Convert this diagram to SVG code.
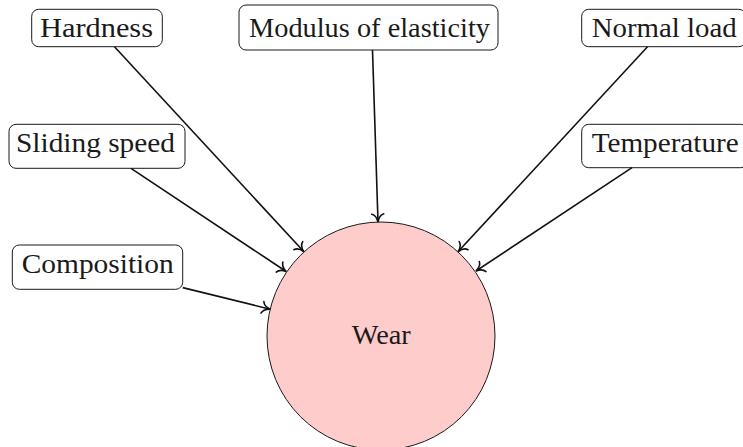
<svg xmlns="http://www.w3.org/2000/svg" width="743" height="447" viewBox="0 0 743 447">
<style>
.box{fill:#ffffff;stroke:#1a1a1a;stroke-width:1}
.lbl{font-family:"Liberation Serif","DejaVu Serif",serif;font-size:27px;fill:#1a1a1a}
.edge{stroke:#111;stroke-width:1.6;fill:none;marker-end:url(#arr)}
</style>
<defs>
<marker id="arr" markerUnits="userSpaceOnUse" viewBox="-10 -8 12 16" refX="0" refY="0" markerWidth="12" markerHeight="16" orient="auto" overflow="visible">
<path d="M -8,-6 C -7,-2.5 -3.5,-0.7 0,0 C -3.5,0.7 -7,2.5 -8,6" fill="none" stroke="#111" stroke-width="1.6" stroke-linecap="round"/>
</marker>
</defs>
<rect width="743" height="447" fill="#ffffff"/>
<g id="wear">
<circle cx="381" cy="336" r="114" fill="#ffcccc" stroke="#1a1a1a" stroke-width="1"/>
<text class="lbl" x="351.7" y="344" textLength="59" lengthAdjust="spacingAndGlyphs">Wear</text>
</g>
<g id="hardness">
<rect class="box" x="31.7" y="9.3" width="130.6" height="37.4" rx="7"/>
<text class="lbl" x="40" y="36.7" textLength="113" lengthAdjust="spacingAndGlyphs">Hardness</text>
</g>
<g id="modulus">
<rect class="box" x="239" y="5" width="259" height="45" rx="7"/>
<text class="lbl" x="249" y="37.3" textLength="241" lengthAdjust="spacingAndGlyphs">Modulus of elasticity</text>
</g>
<g id="normal-load">
<rect class="box" x="581.7" y="9.3" width="164" height="37.4" rx="7"/>
<text class="lbl" x="591.7" y="36.7" textLength="145" lengthAdjust="spacingAndGlyphs">Normal load</text>
</g>
<g id="sliding-speed">
<rect class="box" x="9" y="124.3" width="176" height="44" rx="7"/>
<text class="lbl" x="16" y="151.7" textLength="159" lengthAdjust="spacingAndGlyphs">Sliding speed</text>
</g>
<g id="temperature">
<rect class="box" x="581.7" y="124.3" width="166" height="43.4" rx="7"/>
<text class="lbl" x="591.7" y="151.7" textLength="147" lengthAdjust="spacingAndGlyphs">Temperature</text>
</g>
<g id="composition">
<rect class="box" x="12.3" y="245" width="170.4" height="44.3" rx="7"/>
<text class="lbl" x="21.7" y="273.3" textLength="152" lengthAdjust="spacingAndGlyphs">Composition</text>
</g>
<g id="connectors">
<line class="edge" x1="114.5" y1="46.7" x2="303.7" y2="251.5"/>
<line class="edge" x1="372.5" y1="50" x2="378" y2="222"/>
<line class="edge" x1="647.5" y1="46.7" x2="458.2" y2="251.5"/>
<line class="edge" x1="131" y1="168.3" x2="286.2" y2="271.5"/>
<line class="edge" x1="632" y1="167.7" x2="476" y2="271"/>
<line class="edge" x1="182.7" y1="287.6" x2="270.2" y2="309.2"/>
</g>
</svg>
